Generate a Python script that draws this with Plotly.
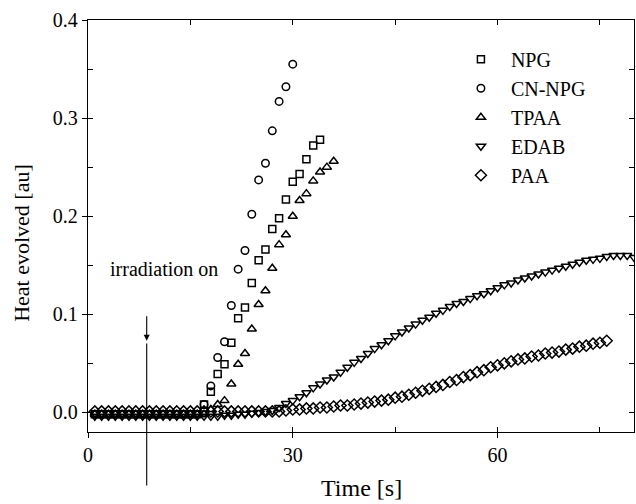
import plotly.graph_objects as go

# ---------------- data ----------------
t_npg = list(range(1, 35))
npg = [-0.002]*16 + [0.008, 0.021, 0.039, 0.049, 0.071, 0.096, 0.107, 0.132, 0.155, 0.166,
                     0.187, 0.198, 0.217, 0.235, 0.243, 0.258, 0.272, 0.278]

t_cn = list(range(1, 31))
cn_npg = [-0.002]*16 + [0.008, 0.027, 0.056, 0.072, 0.109, 0.146, 0.165, 0.202, 0.237, 0.254,
                        0.287, 0.317, 0.332, 0.355]

t_tpaa = list(range(1, 37))
tpaa = [-0.002]*17 + [0.003, 0.008, 0.012, 0.029, 0.049, 0.060, 0.085, 0.110, 0.124, 0.147,
                      0.171, 0.181, 0.200, 0.216, 0.223, 0.236, 0.245, 0.250, 0.256]

t_edab = list(range(1, 81))
edab = [-0.004]*19 + [-0.003, -0.003, -0.002, -0.002, -0.001, 0.000, 0.001, 0.002, 0.005, 0.009,
                      0.012, 0.016, 0.020, 0.025, 0.029, 0.033, 0.036, 0.041, 0.046, 0.051,
                      0.055, 0.060, 0.065, 0.069, 0.073, 0.078, 0.082, 0.086, 0.090, 0.094,
                      0.097, 0.101, 0.104, 0.108, 0.111, 0.113, 0.116, 0.119, 0.121, 0.124,
                      0.127, 0.130, 0.132, 0.135, 0.137, 0.139, 0.141, 0.143, 0.145, 0.147,
                      0.149, 0.151, 0.153, 0.155, 0.156, 0.157, 0.159, 0.160, 0.160, 0.160,
                      0.158]

t_paa = list(range(1, 77))
paa = [0.001]*28 + [0.002, 0.003, 0.003, 0.004, 0.004, 0.005, 0.005, 0.006, 0.007, 0.007,
                    0.008, 0.009, 0.010, 0.011, 0.012, 0.013, 0.015, 0.016, 0.018, 0.020,
                    0.022, 0.024, 0.026, 0.028, 0.031, 0.033, 0.036, 0.038, 0.041, 0.043,
                    0.046, 0.048, 0.050, 0.052, 0.054, 0.055, 0.057, 0.058, 0.060, 0.061,
                    0.062, 0.064, 0.065, 0.067, 0.068, 0.070, 0.071, 0.073]

series_names = ["NPG", "CN-NPG", "TPAA", "EDAB", "PAA"]
x_ticks = [0, 30, 60]
y_ticks = [0.0, 0.1, 0.2, 0.3, 0.4]
y_ticklabels = ["0.0", "0.1", "0.2", "0.3", "0.4"]
irradiation_time = 8.6

# ---------------- figure ----------------
FONT = "Liberation Serif, Times New Roman, serif"
fig = go.Figure()

styles = [
    (t_npg, npg, "square-open", 7),
    (t_cn, cn_npg, "circle-open", 7.5),
    (t_tpaa, tpaa, "triangle-up-open", 8),
    (t_edab, edab, "triangle-down-open", 8),
    (t_paa, paa, "diamond-open", 8.5),
]
for i, (name, (tx, vy, sym, sz)) in enumerate(zip(series_names, styles)):
    fig.add_trace(go.Scatter(
        x=tx, y=vy, mode="markers", name="\u00a0\u00a0" + name,
        legendgroup=f"g{i}",
        marker=dict(symbol=sym, size=sz, color="black", line=dict(color="black", width=1.5)),
    ))

# invisible traces to realise overlay axes (inside ticks)
for xa, ya in [("x2", "y2"), ("x3", "y3")]:
    fig.add_trace(go.Scatter(x=[], y=[], xaxis=xa, yaxis=ya, showlegend=False,
                             hoverinfo="skip", mode="markers"))

XR = [0, 80]
YR = [-0.02, 0.4]
common_in = dict(ticks="inside", ticklen=5, tickwidth=1.2, tickcolor="black",
                 showticklabels=False, showgrid=False, zeroline=False, showline=False)

fig.update_layout(
    width=636, height=504,
    margin=dict(l=88, r=2, t=20, b=72),
    paper_bgcolor="white", plot_bgcolor="white",
    font=dict(family=FONT, size=20, color="black"),
    showlegend=True,
    legend=dict(x=0.683, y=0.952, xanchor="left", yanchor="top",
                bgcolor="rgba(0,0,0,0)", tracegroupgap=0,
                font=dict(family=FONT, size=20, color="black")),
    xaxis=dict(range=XR, tickvals=x_ticks, ticks="outside", ticklen=5, tickwidth=1.2,
               tickcolor="black", showline=True, linecolor="black", linewidth=1.3,
               mirror=True, showgrid=False, zeroline=False,
               tickfont=dict(family=FONT, size=20)),
    yaxis=dict(range=YR, tickvals=y_ticks, ticktext=y_ticklabels, ticks="outside", ticklen=5,
               tickwidth=1.2, tickcolor="black", showline=True, linecolor="black",
               linewidth=1.3, mirror=True, showgrid=False, zeroline=False,
               tickfont=dict(family=FONT, size=20)),
    xaxis2=dict(overlaying="x", side="bottom", anchor="y", range=XR, tick0=0, dtick=15, **common_in),
    yaxis2=dict(overlaying="y", side="left", anchor="x", range=YR, tick0=0, dtick=0.05, **common_in),
    xaxis3=dict(overlaying="x", side="top", anchor="y", range=XR, tick0=0, dtick=15, **common_in),
    yaxis3=dict(overlaying="y", side="right", anchor="x", range=YR, tick0=0, dtick=0.05, **common_in),
)

# axis titles
fig.add_annotation(text="Time [s]", xref="paper", yref="paper", x=0.5, y=-0.135,
                   xanchor="center", yanchor="middle", showarrow=False,
                   font=dict(family=FONT, size=24))
fig.add_annotation(text="Heat evolved [au]", xref="paper", yref="paper", x=-0.122, y=0.46,
                   xanchor="center", yanchor="middle", textangle=-90, showarrow=False,
                   font=dict(family=FONT, size=22))

# irradiation marker
fig.add_annotation(text="irradiation on", xref="x", yref="y", x=3.0, y=0.146,
                   xanchor="left", yanchor="middle", showarrow=False,
                   font=dict(family=FONT, size=20))
fig.add_annotation(text="", xref="x", yref="y", x=irradiation_time, y=0.073,
                   ax=0, ay=-26, showarrow=True, arrowhead=2, arrowsize=1.1,
                   arrowwidth=1.1, arrowcolor="black")
fig.add_shape(type="line", xref="x", yref="paper", x0=irradiation_time, x1=irradiation_time,
              y0=-0.13, y1=0.215, line=dict(color="black", width=1.1))

fig.write_html("out.html", config={"displayModeBar": False},
               post_script="document.body.style.margin='0';document.body.style.overflow='hidden';")
